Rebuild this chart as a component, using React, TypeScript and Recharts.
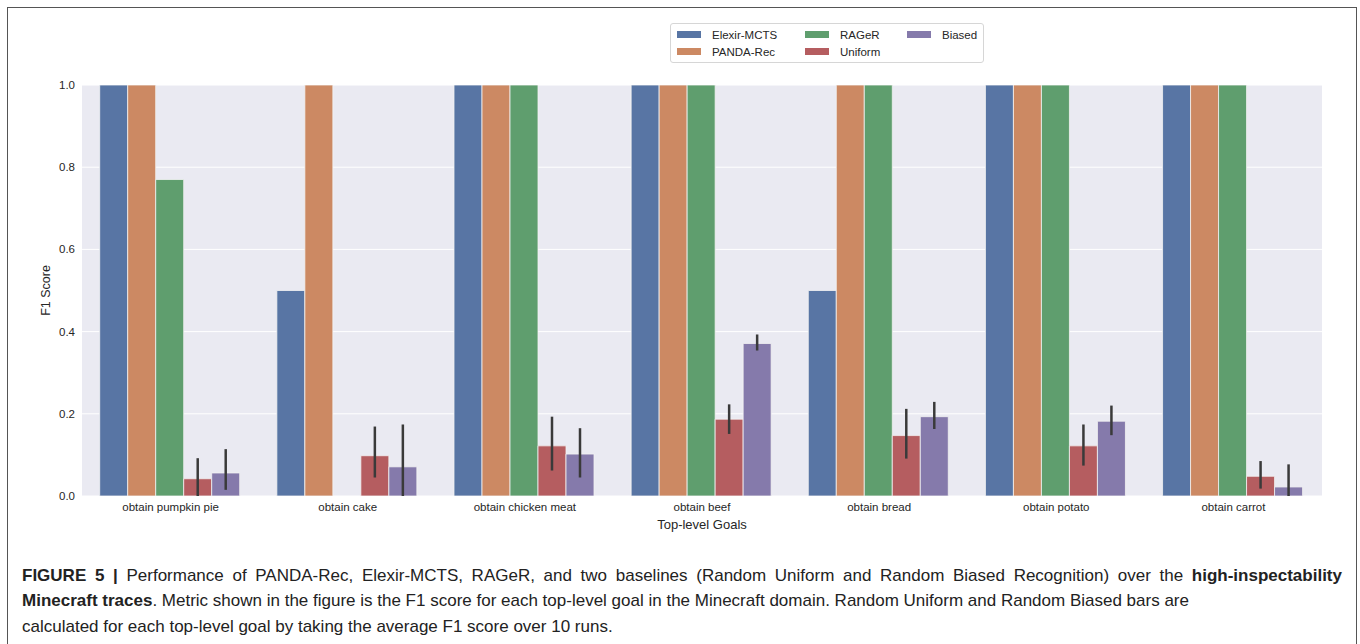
import React from "react";
import { BarChart, Bar, XAxis, YAxis, CartesianGrid, Legend, ErrorBar, Label } from "recharts";

const goals = [
  "obtain pumpkin pie",
  "obtain cake",
  "obtain chicken meat",
  "obtain beef",
  "obtain bread",
  "obtain potato",
  "obtain carrot",
];
const elexir = [1, 0.5, 1, 1, 0.5, 1, 1];
const panda = [1, 1, 1, 1, 1, 1, 1];
const rager = [0.77, 0, 1, 1, 1, 1, 1];
const uniform = [0.042, 0.098, 0.122, 0.187, 0.147, 0.122, 0.048];
const uniformLow = [0, 0.045, 0.062, 0.151, 0.091, 0.074, 0.018];
const uniformHigh = [0.092, 0.169, 0.193, 0.223, 0.212, 0.174, 0.085];
const biased = [0.056, 0.071, 0.102, 0.371, 0.193, 0.182, 0.022];
const biasedLow = [0.015, 0, 0.045, 0.354, 0.163, 0.148, 0];
const biasedHigh = [0.114, 0.174, 0.165, 0.393, 0.229, 0.22, 0.077];
const yTicks = [0, 0.2, 0.4, 0.6, 0.8, 1.0];

const series = [
  { key: "elexir", name: "Elexir-MCTS", color: "#5875a4" },
  { key: "panda", name: "PANDA-Rec", color: "#cc8963" },
  { key: "rager", name: "RAGeR", color: "#5f9e6e" },
  { key: "uniform", name: "Uniform", color: "#b55d60" },
  { key: "biased", name: "Biased", color: "#857aab" },
];

const data = goals.map((g, i) => ({
  goal: g,
  elexir: elexir[i],
  panda: panda[i],
  rager: rager[i],
  uniform: uniform[i],
  biased: biased[i],
  uErr: [uniform[i] - uniformLow[i], uniformHigh[i] - uniform[i]],
  bErr: [biased[i] - biasedLow[i], biasedHigh[i] - biased[i]],
}));

const FONT = "'Liberation Sans', Arial, Helvetica, sans-serif";
const TEXT = "#262626";

const LegendBox = () => {
  const cols = [
    [series[0], series[1]],
    [series[2], series[3]],
    [series[4]],
  ];
  const widths = [128, 102, 75];
  return (
    <div
      style={{
        display: "flex",
        border: "1px solid #d6d6d6",
        borderRadius: 3,
        background: "#ffffff",
        padding: "2px 0px 2px 6px",
        fontFamily: FONT,
        fontSize: 11.5,
        color: TEXT,
        width: 306,
      }}
    >
      {cols.map((col, ci) => (
        <div key={ci} style={{ display: "flex", flexDirection: "column", width: widths[ci] }}>
          {col.map((s) => (
            <div key={s.key} style={{ display: "flex", alignItems: "center", height: 17 }}>
              <span style={{ display: "inline-block", width: 24, height: 7, background: s.color, marginRight: 11 }} />
              <span>{s.name}</span>
            </div>
          ))}
        </div>
      ))}
    </div>
  );
};

const YLabel = (props: any) => {
  const vb = props.viewBox || {};
  const cy = vb.y + vb.height / 2;
  return (
    <text x={46} y={cy} transform={`rotate(-90, 46, ${cy})`} textAnchor="middle" dominantBaseline="central" fontFamily={FONT} fontSize={12.5} fill={TEXT}>
      F1 Score
    </text>
  );
};

const captionLine: React.CSSProperties = {
  position: "absolute",
  left: 22,
  whiteSpace: "nowrap",
  fontFamily: FONT,
  fontSize: 17,
  color: "#222",
  lineHeight: "20px",
};

export default function App() {
  return (
    <div style={{ position: "absolute", left: 0, top: 0, width: 1360, height: 644, background: "#fff", overflow: "hidden" }}>
      <div style={{ position: "absolute", left: 7, top: 7, width: 1348, height: 700, border: "1px solid #555" }} />
      <div style={{ position: "absolute", left: 0, top: 0 }}>
        <BarChart
          width={1360}
          height={540}
          data={data}
          margin={{ top: 85, right: 38, bottom: 14, left: 0 }}
          barCategoryGap="10%"
          barGap={0}
        >
          <CartesianGrid fill="#eaeaf2" stroke="#ffffff" strokeWidth={1} vertical={false} horizontalValues={yTicks} />
          <XAxis
            dataKey="goal"
            height={30}
            tickLine={false}
            axisLine={false}
            tickSize={0}
            tickMargin={7}
            tick={{ fontFamily: FONT, fontSize: 11.5, fill: TEXT }}
            interval={0}
          >
            <Label value="Top-level Goals" position="insideBottom" offset={-3} style={{ fontFamily: FONT, fontSize: 13, fill: TEXT }} />
          </XAxis>
          <YAxis
            width={82}
            domain={[0, 1]}
            ticks={yTicks}
            tickFormatter={(v: number) => v.toFixed(1)}
            tickLine={false}
            axisLine={false}
            tickSize={0}
            tickMargin={7}
            tick={{ fontFamily: FONT, fontSize: 11.5, fill: TEXT }}
            allowDataOverflow
          >
            <Label content={YLabel} />
          </YAxis>
          <Legend
            layout="vertical"
            verticalAlign="middle"
            align="center"
            wrapperStyle={{ position: "absolute", left: 670, top: 23, width: 313 }}
            content={() => <LegendBox />}
          />
          {series.map((s) => (
            <Bar key={s.key} dataKey={s.key} name={s.name} fill={s.color} stroke="#f2f2f2" strokeWidth={0.8} isAnimationActive={false}>
              {s.key === "uniform" && <ErrorBar dataKey="uErr" width={0} stroke="#3a3a3a" strokeWidth={2.5} />}
              {s.key === "biased" && <ErrorBar dataKey="bErr" width={0} stroke="#3a3a3a" strokeWidth={2.5} />}
            </Bar>
          ))}
        </BarChart>
      </div>
      <div style={{ ...captionLine, top: 566, width: 1320, textAlign: "justify", textAlignLast: "justify", whiteSpace: "normal" }}>
        <b>FIGURE 5 |</b> Performance of PANDA-Rec, Elexir-MCTS, RAGeR, and two baselines (Random Uniform and Random Biased Recognition) over the <b>high-inspectability</b>
      </div>
      <div style={{ ...captionLine, top: 591 }}>
        <b>Minecraft traces</b>. Metric shown in the figure is the F1 score for each top-level goal in the Minecraft domain. Random Uniform and Random Biased bars are
      </div>
      <div style={{ ...captionLine, top: 617 }}>
        calculated for each top-level goal by taking the average F1 score over 10 runs.
      </div>
    </div>
  );
}
